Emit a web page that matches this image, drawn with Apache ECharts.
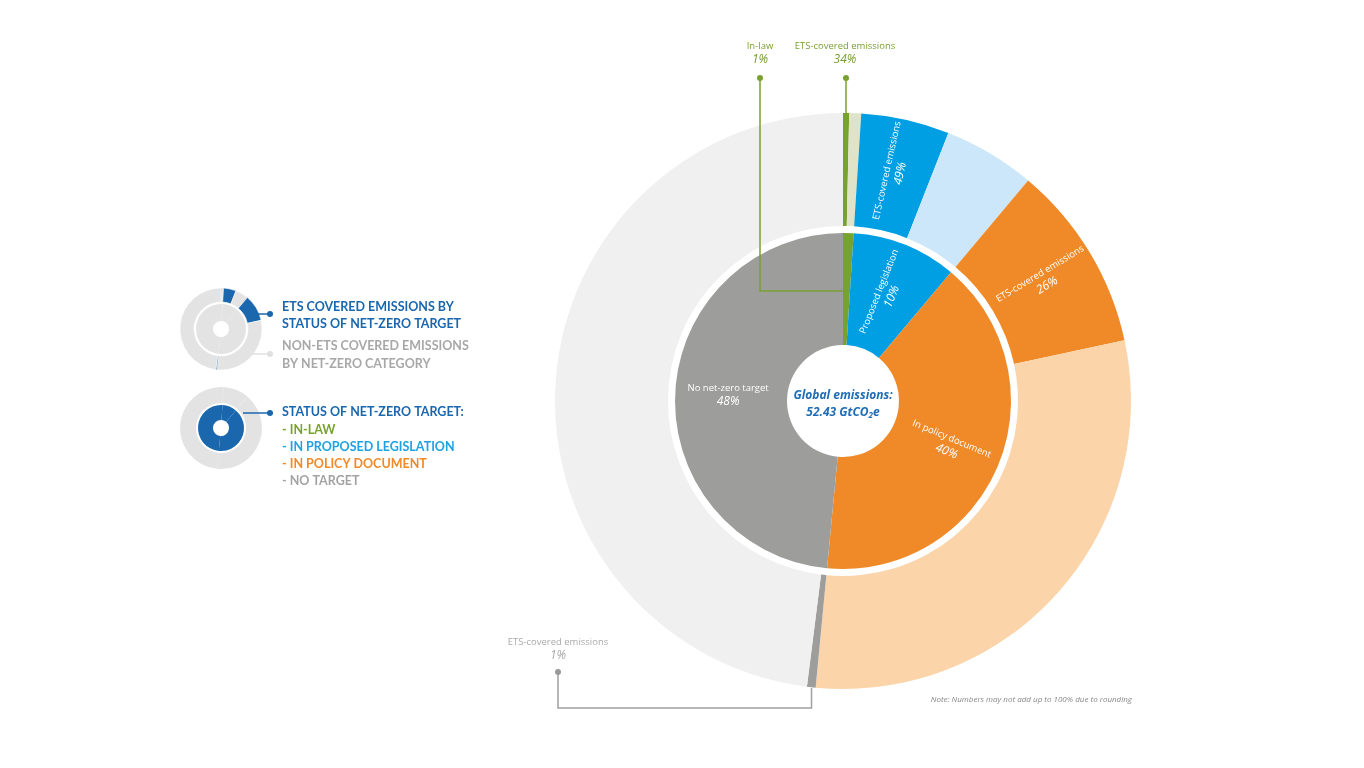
<!DOCTYPE html>
<html>
<head>
<meta charset="utf-8">
<script src="https://cdn.jsdelivr.net/npm/echarts@6/dist/echarts.min.js"></script>
<style>
  html, body { margin: 0; padding: 0; background: #fff; }
  #main { width: 1364px; height: 768px; }
</style>
</head>
<body>
<div id="main"></div>
<script>
// status of net-zero target, share of global emissions (%)
const statusNames = ['In-law', 'Proposed legislation', 'In policy document', 'No net-zero target']
const statusShare = [1, 10, 40, 48]
// share of each status group covered by an ETS (%)
const etsShare = [34, 49, 26, 1]
const legendItems = ['IN-LAW', 'IN PROPOSED LEGISLATION', 'IN POLICY DOCUMENT', 'NO TARGET']
const totalEmissions = '52.43'

const statusColors = ['#78a22f', '#009fe3', '#f08a28', '#9d9d9c']
const nonEtsColors = ['#dfe3c8', '#cbe7f9', '#fcd4a9', '#f0f0f0']
const legendColors = ['#78a22f', '#1fa3e0', '#f08a28', '#a3a3a3']
const darkBlue = '#1b67ae'
const center = [843, 401]
const outerR = 288
const FONT = '"Open Sans", "Noto Sans", sans-serif'

const labelRich = {
  n: { color: '#fff', fontSize: 9.5, fontFamily: FONT, lineHeight: 13 },
  p: { color: '#fff', fontSize: 12, fontStyle: 'italic', fontFamily: FONT, lineHeight: 14 },
}
const fmt = (p) => `{n|${p.data.text}}\n{p|${p.data.pct}%}`

// inner pie: status of net-zero target
const innerData = statusNames.map((name, i) => ({
  name,
  value: statusShare[i],
  text: name,
  pct: statusShare[i],
  itemStyle: { color: statusColors[i] },
  label: { show: i > 0, rotate: i === 3 ? 0 : 'radial' },
}))

// outer ring: ETS / non-ETS split of each status group
const outerData = []
statusNames.forEach((name, i) => {
  outerData.push({
    name: name + ' ETS',
    value: (statusShare[i] * etsShare[i]) / 100,
    text: 'ETS-covered emissions',
    pct: etsShare[i],
    itemStyle: { color: statusColors[i] },
    label: { show: i === 1 || i === 2 },
  })
  outerData.push({
    name: name + ' non-ETS',
    value: (statusShare[i] * (100 - etsShare[i])) / 100,
    text: '',
    pct: 100 - etsShare[i],
    itemStyle: { color: nonEtsColors[i] },
    label: { show: false },
  })
})

// x position on the outer rim at the middle of an outer slice (for callouts)
const total = outerData.reduce((s, d) => s + d.value, 0)
const rimX = (k) => {
  const before = outerData.slice(0, k).reduce((s, d) => s + d.value, 0)
  const a = ((before + outerData[k].value / 2) / total) * 2 * Math.PI
  return center[0] + outerR * Math.sin(a)
}
const noTargetX = Math.round(rimX(6) * 2) / 2
const inLawX = Math.round(rimX(0) * 2) / 2

const chart = echarts.init(document.getElementById('main'))

const txt = (x, y, text, fill, font, align = 'left') => ({
  type: 'text',
  x, y, z: 20,
  silent: true,
  style: { text, fill, font, align, textAlign: align, verticalAlign: 'middle', textVerticalAlign: 'middle' },
})
const line = (points, stroke, lineWidth = 1.5) => ({
  type: 'polyline', silent: true, z: 20,
  shape: { points },
  style: { stroke, lineWidth, fill: null },
})
const dot = (cx, cy, fill, r = 3) => ({
  type: 'circle', silent: true, z: 20,
  shape: { cx, cy, r },
  style: { fill },
})

const green = '#7aa032'
const grey = '#a0a0a0'
const legendFont = 'bold 12.5px Lato, "Open Sans", sans-serif'

const option = {
  animation: false,
  series: [
    {
      type: 'pie',
      center,
      radius: [56, 168],
      startAngle: 90,
      silent: true,
      label: { position: 'inside', formatter: fmt, rich: labelRich },
      labelLine: { show: false },
      data: innerData,
    },
    {
      type: 'pie',
      center,
      radius: [175, outerR],
      startAngle: 90,
      silent: true,
      label: { position: 'inside', rotate: 'radial', formatter: fmt, rich: labelRich },
      labelLine: { show: false },
      data: outerData,
    },
    // legend icon 1: ETS / non-ETS ring
    {
      type: 'pie', center: [221, 329], radius: [27, 41], startAngle: 90, silent: true,
      label: { show: false },
      itemStyle: { borderColor: '#fff', borderWidth: 0.5 },
      data: outerData.map((d, k) => ({ value: d.value, itemStyle: { color: k % 2 === 0 ? darkBlue : '#e3e3e3' } })),
    },
    {
      type: 'pie', center: [221, 329], radius: [8, 25], startAngle: 90, silent: true,
      label: { show: false },
      data: statusShare.map((v) => ({ value: v, itemStyle: { color: '#e3e3e3' } })),
    },
    // legend icon 2: status of net-zero target
    {
      type: 'pie', center: [221, 428], radius: [25, 41], startAngle: 90, silent: true,
      label: { show: false },
      data: statusShare.map((v) => ({ value: v, itemStyle: { color: '#e3e3e3' } })),
    },
    {
      type: 'pie', center: [221, 428], radius: [8, 23], startAngle: 90, silent: true,
      label: { show: false },
      data: statusShare.map((v) => ({ value: v, itemStyle: { color: darkBlue } })),
    },
  ],
  graphic: [
    // centre text
    {
      type: 'text', x: 843, y: 404, z: 20, silent: true,
      style: {
        text: '{a|Global emissions:}\n{a|' + totalEmissions + ' GtCO}{s|2}{a|e}',
        align: 'center', textAlign: 'center', verticalAlign: 'middle', textVerticalAlign: 'middle',
        rich: {
          a: { fill: '#1f6db5', font: 'italic bold 12px ' + FONT, lineHeight: 17 },
          s: { fill: '#1f6db5', font: 'italic bold 8px ' + FONT, padding: [7, 0, 0, 0], lineHeight: 17 },
        },
      },
    },
    // In-law callout
    line([[760, 78], [760, 291], [846, 291]], green),
    dot(760, 78, green),
    txt(760, 46, 'In-law', green, '9.5px ' + FONT, 'center'),
    txt(760, 60, statusShare[0] + '%', green, 'italic 12px ' + FONT, 'center'),
    // In-law ETS callout
    line([[inLawX, 78], [inLawX, 114]], green),
    dot(inLawX, 78, green),
    txt(845, 46, 'ETS-covered emissions', green, '9.5px ' + FONT, 'center'),
    txt(845, 60, etsShare[0] + '%', green, 'italic 12px ' + FONT, 'center'),
    // No target ETS callout
    line([[558, 672], [558, 708], [noTargetX, 708], [noTargetX, 688]], grey),
    dot(558, 672, '#999'),
    txt(558, 642, 'ETS-covered emissions', '#aaa', '9.5px ' + FONT, 'center'),
    txt(558, 656, etsShare[3] + '%', '#aaa', 'italic 12px ' + FONT, 'center'),
    // note
    txt(1132, 700, 'Note: Numbers may not add up to 100% due to rounding', '#888', 'italic 8px ' + FONT, 'right'),
    // legend connectors
    line([[256, 314], [270, 314]], darkBlue),
    dot(270, 314, darkBlue),
    line([[252, 354], [270, 354]], '#e0e0e0'),
    dot(270, 354, '#e0e0e0'),
    line([[243, 413], [270, 413]], darkBlue),
    dot(270, 413, darkBlue),
    // legend text
    txt(282, 307, 'ETS COVERED EMISSIONS BY', darkBlue, legendFont),
    txt(282, 324, 'STATUS OF NET-ZERO TARGET', darkBlue, legendFont),
    txt(282, 346, 'NON-ETS COVERED EMISSIONS', '#a8a8a8', legendFont),
    txt(282, 364, 'BY NET-ZERO CATEGORY', '#a8a8a8', legendFont),
    txt(282, 412, 'STATUS OF NET-ZERO TARGET:', darkBlue, legendFont),
    ...legendItems.map((t, i) => txt(282, 430 + i * 17, '- ' + t, legendColors[i], legendFont)),
  ],
}

chart.setOption(option)
window.addEventListener('resize', () => chart.resize())
</script>
</body>
</html>
